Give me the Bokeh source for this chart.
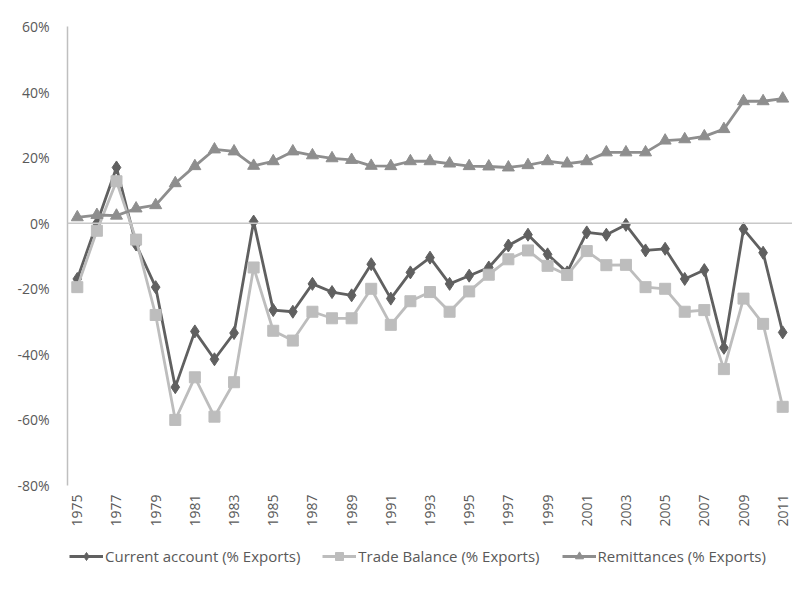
import numpy as np
from bokeh.plotting import figure
from bokeh.layouts import column
from bokeh.models import FixedTicker, PrintfTickFormatter, Span, Legend, LegendItem, ColumnDataSource
from bokeh.embed import file_html
from bokeh.resources import INLINE

years = list(range(1975, 2012))
current_account = [-17, 0, 17, -6.5, -19.5, -50, -33, -41.5, -33.5, 0.5, -26.5, -27,
                   -18.5, -21, -22, -12.5, -23, -15, -10.5, -18.5, -16, -13.5, -6.8, -3.5,
                   -9.5, -15, -2.8, -3.5, -0.5, -8.3, -7.8, -17, -14.3, -38, -1.8, -9, -33.3]
trade_balance = [-19.5, -2.3, 12.8, -5, -28, -60, -47, -59, -48.5, -13.5, -32.8, -35.8,
                 -27, -29, -29, -20, -31, -23.8, -21, -27, -20.8, -15.7, -11, -8.3,
                 -13, -15.8, -8.5, -12.8, -12.7, -19.5, -20, -27, -26.5, -44.5, -23, -30.7, -56]
remittances = [1.8, 2.5, 2.3, 4.5, 5.5, 12.2, 17.4, 22.5, 21.9, 17.5, 18.9, 21.9,
               20.7, 19.8, 19.3, 17.5, 17.4, 18.9, 18.9, 18.2, 17.4, 17.3, 17.0, 17.7,
               18.9, 18.2, 18.9, 21.6, 21.6, 21.6, 25.2, 25.6, 26.5, 28.7, 37.2, 37.2, 38]
series_names = ["Current account (% Exports)", "Trade Balance (% Exports)", "Remittances (% Exports)"]
y_ticks = [-80, -60, -40, -20, 0, 20, 40, 60]
x_ticks = list(range(1975, 2012, 2))

FONT = "Open Sans"
TXT = "#595959"
c1, c2, c3 = "#606060", "#bdbdbd", "#8e8e8e"
styles = [(c1, "diamond", 13), (c2, "square", 11), (c3, "triangle", 12)]

p = figure(width=792, height=540, output_backend="svg", toolbar_location=None,
           x_range=(1974.5, 2011.5), y_range=(-80, 60),
           min_border_left=67, min_border_right=0, min_border_top=26, min_border_bottom=55)
p.outline_line_color = None
p.grid.grid_line_color = None

p.yaxis.ticker = FixedTicker(ticks=y_ticks)
p.yaxis.formatter = PrintfTickFormatter(format="%d%%")
p.yaxis.major_tick_line_color = None
p.yaxis.minor_tick_line_color = None
p.yaxis.axis_line_color = "#bfbfbf"
p.yaxis.axis_line_width = 1.5
p.yaxis.major_label_standoff = 12
p.yaxis.major_label_text_font = FONT
p.yaxis.major_label_text_font_size = "14px"
p.yaxis.major_label_text_color = TXT

p.xaxis.ticker = FixedTicker(ticks=x_ticks)
p.xaxis.major_label_overrides = {y: str(y) for y in x_ticks}
p.xaxis.major_label_orientation = np.pi / 2
p.xaxis.major_tick_line_color = None
p.xaxis.minor_tick_line_color = None
p.xaxis.axis_line_color = None
p.xaxis.major_label_standoff = 3
p.xaxis.major_label_text_font = FONT
p.xaxis.major_label_text_font_size = "14px"
p.xaxis.major_label_text_color = TXT

p.add_layout(Span(location=0, dimension="width", line_color="#c8c8c8", line_width=1.5))

src = ColumnDataSource(dict(x=years, ca=current_account, tb=trade_balance, rm=remittances))
for col, (c, mk, sz) in zip(["ca", "tb", "rm"], styles):
    p.line("x", col, source=src, line_color=c, line_width=2.8)
    p.scatter("x", col, source=src, marker=mk, size=sz, fill_color=c, line_color=c)

# legend strip (separate figure so that it lies outside the plot frame)
leg = figure(width=792, height=34, output_backend="svg", toolbar_location=None,
             x_range=(0, 1), y_range=(0, 1), x_axis_type=None, y_axis_type=None,
             min_border=0)
leg.outline_line_color = None
leg.grid.grid_line_color = None
items = []
for name, (c, mk, sz) in zip(series_names, styles):
    lr = leg.line([-5, -4], [-5, -4], line_color=c, line_width=2.8)
    sr = leg.scatter([-5], [-5], marker=mk, size=sz - 3, fill_color=c, line_color=c)
    items.append(LegendItem(label=name, renderers=[lr, sr]))
legend = Legend(items=items, orientation="horizontal", location=(2, 8),
                label_text_font=FONT, label_text_font_size="15px", label_text_color=TXT,
                border_line_color=None, background_fill_alpha=0,
                glyph_width=34, spacing=22, label_standoff=2, padding=2, margin=0)
leg.add_layout(legend)

open("out.html", "w").write(file_html(column(p, leg, spacing=0), INLINE))
